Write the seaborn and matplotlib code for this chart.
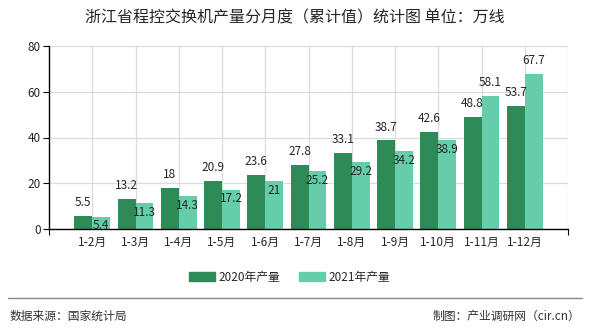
import matplotlib
matplotlib.use("Agg")
import matplotlib.pyplot as plt
import seaborn as sns
import pandas as pd
from matplotlib.ticker import FixedLocator
from matplotlib.lines import Line2D

categories = ["1-2月", "1-3月", "1-4月", "1-5月", "1-6月", "1-7月", "1-8月", "1-9月", "1-10月", "1-11月", "1-12月"]
values_2020 = [5.5, 13.2, 18, 20.9, 23.6, 27.8, 33.1, 38.7, 42.6, 48.8, 53.7]
values_2021 = [5.4, 11.3, 14.3, 17.2, 21, 25.2, 29.2, 34.2, 38.9, 58.1, 67.7]
labels_2020 = ["5.5", "13.2", "18", "20.9", "23.6", "27.8", "33.1", "38.7", "42.6", "48.8", "53.7"]
labels_2021 = ["5.4", "11.3", "14.3", "17.2", "21", "25.2", "29.2", "34.2", "38.9", "58.1", "67.7"]
series_names = ["2020年产量", "2021年产量"]
yticks = [0, 20, 40, 60, 80]
title = "浙江省程控交换机产量分月度（累计值）统计图 单位：万线"
source_left = "数据来源：国家统计局"
source_right = "制图：产业调研网（cir.cn）"

df = pd.DataFrame({
    "cat": categories * 2,
    "val": values_2020 + values_2021,
    "series": [series_names[0]] * len(categories) + [series_names[1]] * len(categories),
})

sns.set_theme(style="white")
plt.rcParams["font.family"] = ["Noto Sans CJK SC", "DejaVu Sans"]

fig = plt.figure(figsize=(5.9, 3.3), dpi=100)
ax = fig.add_axes([49/590, 1 - 229/330, (568-49)/590, (229-46)/330])

palette = {series_names[0]: "#2e8b57", series_names[1]: "#66cdaa"}
sns.barplot(data=df, x="cat", y="val", hue="series", order=categories,
            hue_order=series_names, palette=palette, width=0.83,
            saturation=1, ax=ax, legend=True, zorder=3, linewidth=0)

ax.set_xlim(-1, 11)
ax.set_ylim(0, 80)
ax.set_yticks(yticks)
ax.set_xlabel("")
ax.set_ylabel("")

# grid
ax.grid(True, axis="both", color="#dcdcdc", linewidth=0.9, zorder=0)
ax.set_axisbelow(True)
ax.axvline(11, color="#dcdcdc", linewidth=0.9, zorder=0)

for s in ["top", "right"]:
    ax.spines[s].set_visible(False)
for s in ["left", "bottom"]:
    ax.spines[s].set_color("black")
    ax.spines[s].set_linewidth(1.0)
    ax.spines[s].set_zorder(4)

ax.tick_params(axis="y", length=4, width=0.8, color="black", labelsize=8.5, pad=2, left=True)
ax.tick_params(axis="x", which="major", length=0, labelsize=8.5, pad=5)
ax.xaxis.set_minor_locator(FixedLocator([-1, 11]))
ax.tick_params(axis="x", which="minor", length=4, width=0.8, color="black", bottom=True)

# value labels
bars_2020 = ax.containers[0]
bars_2021 = ax.containers[1]
for rect, lab in zip(bars_2020, labels_2020):
    x = rect.get_x() + rect.get_width() / 2
    ax.annotate(lab, (x, rect.get_height()), xytext=(0, 5), textcoords="offset points",
                ha="center", va="bottom", fontsize=8.5, zorder=5)
for i, (rect, lab) in enumerate(zip(bars_2021, labels_2021)):
    x = rect.get_x() + rect.get_width() / 2
    if i >= len(labels_2021) - 2:
        ax.annotate(lab, (x, rect.get_height()), xytext=(0, 5), textcoords="offset points",
                    ha="center", va="bottom", fontsize=8.5, zorder=5)
    else:
        ax.annotate(lab, (x, rect.get_height()), xytext=(0, -2), textcoords="offset points",
                    ha="center", va="top", fontsize=8.5, zorder=5)

# legend
leg = ax.get_legend()
if leg is not None:
    leg.remove()
handles = [plt.Rectangle((0, 0), 1, 1, color=palette[n]) for n in series_names]
fig.legend(handles, series_names, loc="center", bbox_to_anchor=(290/590, 1 - 277/330),
           ncol=2, frameon=False, fontsize=8.5, handlelength=2.2, handleheight=0.8,
           columnspacing=1.6, handletextpad=0.3)

fig.text(295/590, 1 - 18/330, title, ha="center", va="center", fontsize=11.5)
fig.add_artist(Line2D([8/590, 582/590], [1 - 298/330, 1 - 298/330],
                      color="#888888", linewidth=1.0))
fig.text(10/590, 1 - 316/330, source_left, ha="left", va="center", fontsize=8.5, color="#333333")
fig.text(580/590, 1 - 316/330, source_right, ha="right", va="center", fontsize=8.5, color="#333333")

fig.savefig("out.png", dpi=100)
